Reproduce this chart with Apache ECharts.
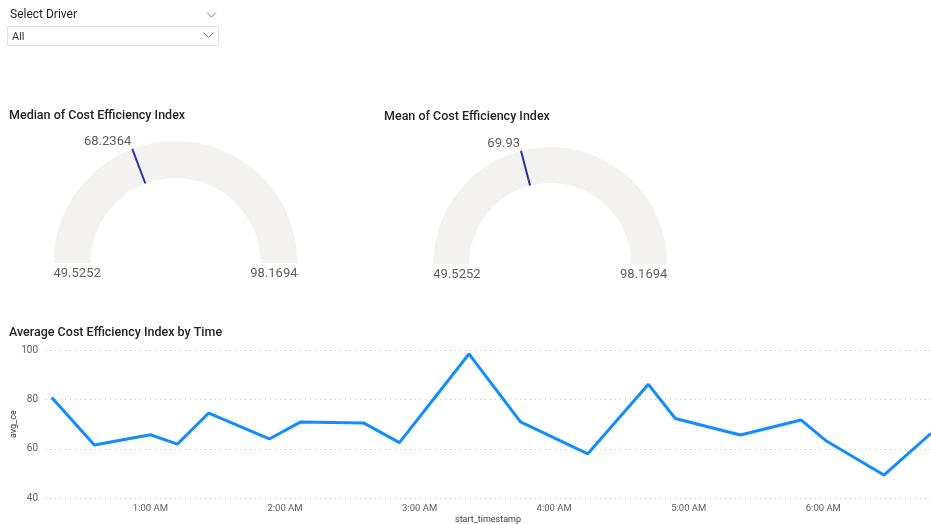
<!DOCTYPE html>
<html>
<head>
<meta charset="utf-8">
<script src="https://cdn.jsdelivr.net/npm/echarts@6/dist/echarts.min.js"></script>
<style>
html,body{margin:0;padding:0;background:#fff;}
#chart{width:931px;height:524px;}
</style>
</head>
<body>
<div id="chart"></div>
<script>
// ---------- data ----------
const slicerTitle = 'Select Driver';
const slicerValue = 'All';

const gaugeTitles = ['Median of Cost Efficiency Index', 'Mean of Cost Efficiency Index'];
const gaugeValues = [68.2364, 69.93];
const gaugeValueLabels = ['68.2364', '69.93'];
const gaugeMin = 49.5252;
const gaugeMax = 98.1694;
const gaugeMinLabel = '49.5252';
const gaugeMaxLabel = '98.1694';

const lineTitle = 'Average Cost Efficiency Index by Time';
// minutes after midnight
const timeMinutes = [16, 35, 60, 72, 86, 113, 127, 155, 171, 202, 225, 255, 282, 294, 323, 350, 361, 387, 408];
const avgCe =       [80.8, 61.6, 65.7, 61.9, 74.5, 64.0, 70.9, 70.5, 62.5, 98.4, 70.9, 58.0, 86.1, 72.3, 65.6, 71.7, 63.4, 49.4, 66.3];
const xTickMinutes = [60, 120, 180, 240, 300, 360];
const yTicks = [40, 60, 80, 100];
const xAxisName = 'start_timestamp';
const yAxisName = 'avg_ce';

// ---------- styling / layout ----------
const FONT = 'Roboto';
const titleColor = '#252423';
const labelColor = '#605e5c';
const gaugeLayout = [
  {cx: 175.5, cy: 263, r: 122, w: 37, titleX: 9, titleY: 116},
  {cx: 550.3, cy: 264, r: 117, w: 36, titleX: 384, titleY: 117}
];

const chart = echarts.init(document.getElementById('chart'));

const series = [];
const graphics = [];

// slicer
graphics.push(
  {type: 'text', left: 10, top: 9, style: {text: slicerTitle, font: '12px ' + FONT, fill: titleColor}},
  {type: 'polyline', shape: {points: [[207, 12.5], [211.5, 17], [216, 12.5]]}, style: {stroke: '#7a7a7a', lineWidth: 1, fill: null}},
  {type: 'rect', shape: {x: 7.5, y: 26.5, width: 211, height: 19}, style: {fill: '#fff', stroke: '#e1dfdd', lineWidth: 1}},
  {type: 'text', left: 12, top: 32, style: {text: slicerValue, font: '11px ' + FONT, fill: '#3b3a39'}},
  {type: 'polyline', shape: {points: [[203.5, 32.5], [208.5, 37.5], [213.5, 32.5]]}, style: {stroke: '#7a7a7a', lineWidth: 1, fill: null}}
);

gaugeValues.forEach((v, i) => {
  const L = gaugeLayout[i];
  const inner = L.r - L.w;
  series.push({
    type: 'gauge',
    center: [L.cx, L.cy],
    radius: L.r,
    startAngle: 180,
    endAngle: 0,
    min: gaugeMin,
    max: gaugeMax,
    splitNumber: 1,
    animation: false,
    axisLine: {lineStyle: {width: L.w, color: [[1, '#f3f2f1']]}},
    progress: {show: false},
    splitLine: {show: false},
    axisTick: {show: false},
    axisLabel: {show: false},
    anchor: {show: false},
    title: {show: false},
    detail: {show: false},
    pointer: {
      show: true,
      icon: 'rect',
      width: 2,
      length: L.w,
      offsetCenter: [0, -inner],
      itemStyle: {color: '#2a34a3'}
    },
    data: [{value: v}]
  });
  const ang = Math.PI * (1 - (v - gaugeMin) / (gaugeMax - gaugeMin));
  const tipX = L.cx + L.r * Math.cos(ang);
  const tipY = L.cy - L.r * Math.sin(ang);
  graphics.push(
    {type: 'text', x: L.titleX, y: L.titleY, style: {text: gaugeTitles[i], font: '500 12.5px ' + FONT, fill: titleColor, verticalAlign: 'middle'}},
    {type: 'text', x: tipX - 1, y: tipY - 7, style: {text: gaugeValueLabels[i], font: '13px ' + FONT, fill: labelColor, align: 'right', verticalAlign: 'middle'}},
    {type: 'text', x: L.cx - L.r, y: L.cy + 11, style: {text: gaugeMinLabel, font: '13px ' + FONT, fill: labelColor, align: 'left', verticalAlign: 'middle'}},
    {type: 'text', x: L.cx + L.r, y: L.cy + 11, style: {text: gaugeMaxLabel, font: '13px ' + FONT, fill: labelColor, align: 'right', verticalAlign: 'middle'}}
  );
});

graphics.push({type: 'text', x: 9, y: 333, style: {text: lineTitle, font: '500 12.5px ' + FONT, fill: titleColor, verticalAlign: 'middle'}});

series.push({
  type: 'line',
  xAxisIndex: 0,
  yAxisIndex: 0,
  data: timeMinutes.map((t, i) => [t, avgCe[i]]),
  showSymbol: false,
  symbol: 'none',
  animation: false,
  lineStyle: {color: '#118dff', width: 3},
  itemStyle: {color: '#118dff'}
});

function fmtTime(m) {
  const h = Math.floor(m / 60);
  const mm = m % 60;
  const h12 = h % 12 === 0 ? 12 : h % 12;
  return h12 + ':' + (mm < 10 ? '0' : '') + mm + (h < 12 ? ' AM' : ' PM');
}

chart.setOption({
  backgroundColor: '#fff',
  animation: false,
  textStyle: {fontFamily: FONT},
  grid: {left: 45, right: 0, top: 350, bottom: 25.7, containLabel: false, outerBoundsMode: 'none'},
  xAxis: {
    type: 'value',
    min: timeMinutes[0] - 3,
    max: timeMinutes[timeMinutes.length - 1],
    name: xAxisName,
    nameLocation: 'middle',
    nameGap: 17,
    nameMoveOverlap: false,
    nameTextStyle: {fontSize: 9, color: '#3b3a39'},
    axisLine: {show: false},
    axisTick: {show: false},
    splitLine: {show: false},
    axisLabel: {
      customValues: xTickMinutes,
      formatter: v => fmtTime(v),
      fontSize: 9.5,
      color: labelColor,
      margin: 5
    }
  },
  yAxis: {
    type: 'value',
    min: yTicks[0],
    max: yTicks[yTicks.length - 1],
    interval: 20,
    name: yAxisName,
    nameLocation: 'middle',
    nameGap: 27,
    nameMoveOverlap: false,
    nameTextStyle: {fontSize: 9, color: '#3b3a39'},
    axisLine: {show: false},
    axisTick: {show: false},
    axisLabel: {fontSize: 10, color: labelColor, margin: 7},
    splitLine: {lineStyle: {type: [1, 4], color: '#c8c6c4', width: 1}}
  },
  series: series,
  graphic: graphics
});
</script>
</body>
</html>
